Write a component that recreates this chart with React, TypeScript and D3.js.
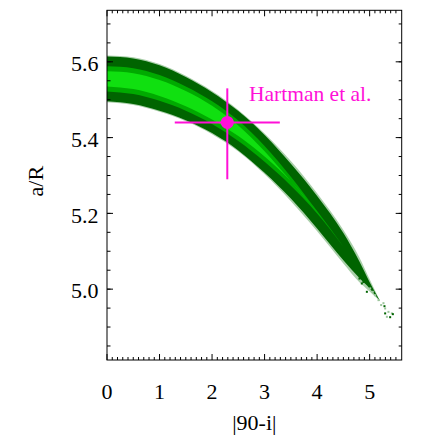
import React from "react";
import * as d3 from "d3";

// ---- data ----
const bandX = [0, 0.5, 1.0, 1.5, 2.0, 2.5, 3.0, 3.5, 4.0, 4.5, 4.8, 5.0, 5.2];
const bandCenter = [5.555, 5.549, 5.531, 5.503, 5.466, 5.418, 5.357, 5.285, 5.203, 5.112, 5.052, 5.01, 4.968];
const paleHalf = [0.062, 0.063, 0.063, 0.06, 0.057, 0.055, 0.054, 0.053, 0.05, 0.044, 0.033, 0.016, 0];
const darkHalf = [0.059, 0.06, 0.06, 0.057, 0.054, 0.052, 0.05, 0.046, 0.043, 0.036, 0.022, 0.008, 0];
const midHalf = [0.033, 0.034, 0.034, 0.032, 0.03, 0.027, 0.021, 0.012, 0.003, 0, 0, 0, 0];
const brightHalf = [0.02, 0.021, 0.021, 0.02, 0.018, 0.014, 0.007, 0, 0, 0, 0, 0, 0];

const tailX = [4.806, 4.882, 4.851, 4.947, 5.01, 5.061, 5.105, 5.168, 5.219, 5.263, 5.282, 5.295, 5.295, 5.358, 5.328, 5.39, 5.423, 5.442];
const tailY = [5.028, 5.019, 5.015, 4.993, 5.002, 4.993, 4.984, 4.971, 4.958, 4.963, 4.955, 4.949, 4.936, 4.94, 4.927, 4.926, 4.936, 4.934];
const tailDark = [1, 1, 1, 1, 0, 0, 0, 0, 0, 0, 1, 0, 1, 0, 0, 1, 0, 1];

const refX = 2.29;
const refY = 5.44;
const refXErr = 1.0;
const refYErrPlus = 0.09;
const refYErrMinus = 0.15;
const refLabel = "Hartman et al.";

const xDomain = [0, 5.61];
const yDomain = [4.813, 5.736];
const xMajor = [0, 1, 2, 3, 4, 5];
const yMajor = [5.0, 5.2, 5.4, 5.6];
const xLabel = "|90-i|";
const yLabel = "a/R";

const W = 421;
const H = 448;
const L = 107, R = 401.7, T = 10.3, B = 360;
const FONT = '"Liberation Serif", "DejaVu Serif", serif';
const MAG = "#ff10d8";
const txt = { fontFamily: FONT, fontSize: "22px" };

export default function App() {
  const x = d3.scaleLinear().domain(xDomain).range([L, R]);
  const y = d3.scaleLinear().domain(yDomain).range([B, T]);

  const rows = bandX.map((bx, i) => ({ bx, c: bandCenter[i], i }));
  const mk = (hw: number[]) =>
    d3
      .area<any>()
      .x((d) => x(d.bx))
      .y0((d) => y(d.c - hw[d.i]))
      .y1((d) => y(d.c + hw[d.i]))
      .curve(d3.curveMonotoneX)(rows) || "";

  const xMinor = d3.range(0, 56).map((k) => k / 10).filter((v) => Math.abs(v - Math.round(v)) > 1e-6);
  const yMinor = d3.range(97, 115).map((k) => k * 0.05).filter((v) => v > yDomain[0] && v < yDomain[1]);

  return (
    <svg width={W} height={H} style={{ position: "absolute", left: 0, top: 0, display: "block", background: "#fff", fontFamily: FONT }}>
      <rect x={0} y={0} width={W} height={H} fill="#fff" />
      {/* posterior band */}
      <path d={mk(paleHalf)} fill="#a9cfa9" />
      <path d={mk(darkHalf)} fill="#006400" />
      <path d={mk(midHalf)} fill="#00aa00" />
      <path d={mk(brightHalf)} fill="#10e010" />
      {tailX.map((tx, i) => (
        <rect
          key={i}
          x={x(tx) - 1}
          y={y(tailY[i]) - 1}
          width={2}
          height={2}
          fill={tailDark[i] ? "#006400" : "#9cc59c"}
        />
      ))}

      {/* reference point */}
      <line x1={x(refX - refXErr)} x2={x(refX + refXErr)} y1={y(refY)} y2={y(refY)} stroke={MAG} strokeWidth={2} />
      <line x1={x(refX)} x2={x(refX)} y1={y(refY + refYErrPlus)} y2={y(refY - refYErrMinus)} stroke={MAG} strokeWidth={2} />
      <circle cx={x(refX)} cy={y(refY)} r={6.5} fill={MAG} />
      <text x={249} y={100.7} style={{ ...txt, fontSize: "21.5px" }} fill={MAG}>
        {refLabel}
      </text>

      {/* frame */}
      <rect x={L} y={T} width={R - L} height={B - T} fill="none" stroke="#000" strokeWidth={1} />

      {/* x ticks */}
      {xMajor.map((v) => (
        <g key={"xM" + v}>
          <line x1={x(v)} x2={x(v)} y1={B} y2={B - 6} stroke="#000" />
          <line x1={x(v)} x2={x(v)} y1={T} y2={T + 6} stroke="#000" />
          <text x={x(v)} y={398.5} textAnchor="middle" style={txt} fill="#000">
            {String(v)}
          </text>
        </g>
      ))}
      {xMinor.map((v) => (
        <g key={"xm" + v}>
          <line x1={x(v)} x2={x(v)} y1={B} y2={B - 3} stroke="#000" />
          <line x1={x(v)} x2={x(v)} y1={T} y2={T + 3} stroke="#000" />
        </g>
      ))}

      {/* y ticks */}
      {yMajor.map((v) => (
        <g key={"yM" + v}>
          <line x1={L} x2={L + 6} y1={y(v)} y2={y(v)} stroke="#000" />
          <line x1={R} x2={R - 6} y1={y(v)} y2={y(v)} stroke="#000" />
          <text x={98.5} y={y(v)} dy="0.42em" textAnchor="end" style={txt} fill="#000">
            {v.toFixed(1)}
          </text>
        </g>
      ))}
      {yMinor.map((v) => (
        <g key={"ym" + v}>
          <line x1={L} x2={L + 3.5} y1={y(v)} y2={y(v)} stroke="#000" />
          <line x1={R} x2={R - 3} y1={y(v)} y2={y(v)} stroke="#000" />
        </g>
      ))}

      {/* axis titles */}
      <text x={(L + R) / 2} y={430} textAnchor="middle" style={txt} fill="#000">
        {xLabel}
      </text>
      <text
        transform={`translate(43, ${(T + B) / 2 - 4}) rotate(-90)`}
        textAnchor="middle"
        style={txt}
        fill="#000"
      >
        {yLabel}
      </text>
    </svg>
  );
}
